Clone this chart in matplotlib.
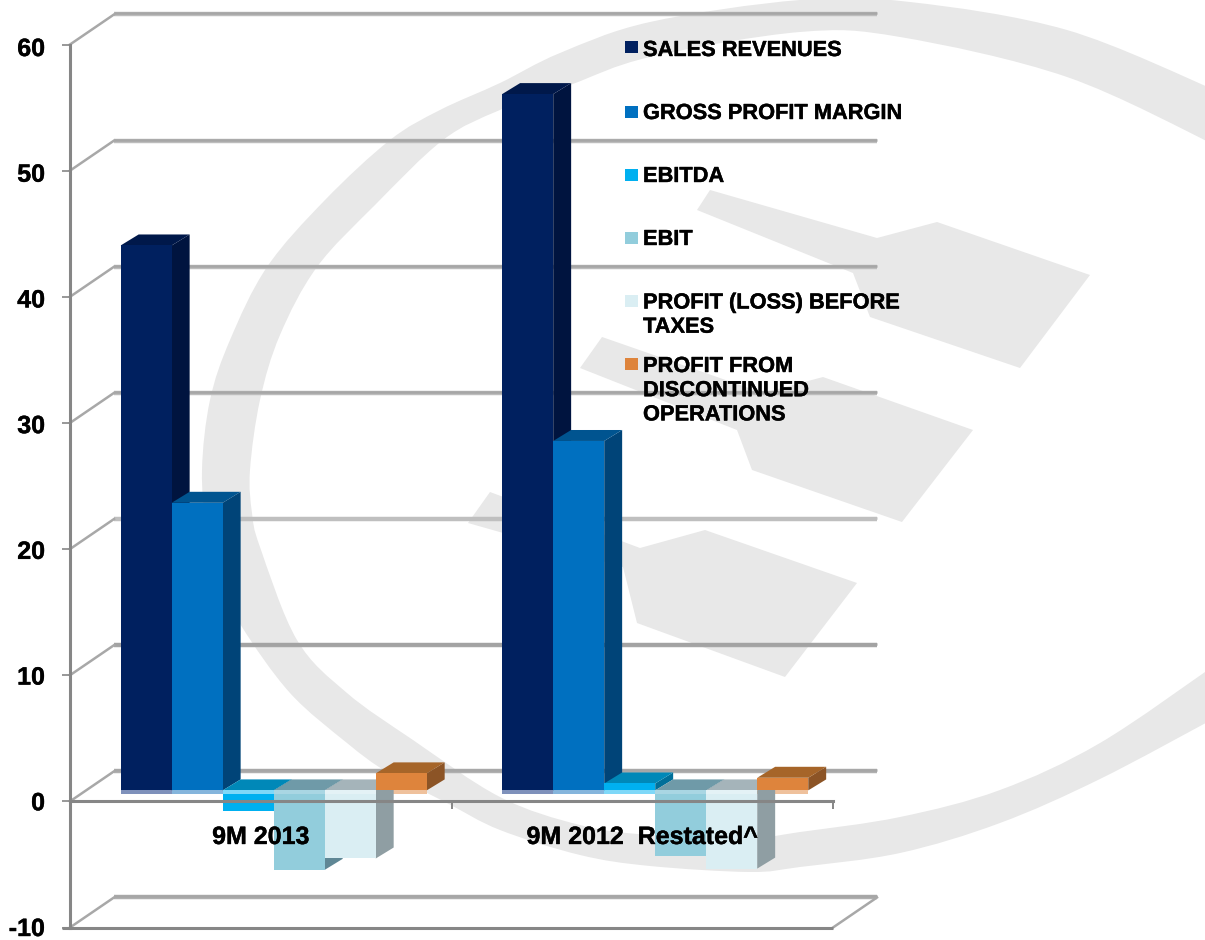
import numpy as np
import matplotlib
matplotlib.use('Agg')
import matplotlib.pyplot as plt
import matplotlib.patheffects as pe
from matplotlib.patches import Polygon, PathPatch, Rectangle
from matplotlib.path import Path
from matplotlib.transforms import ScaledTranslation

plt.rcParams['font.family'] = ['Liberation Sans', 'DejaVu Sans']
plt.rcParams['font.weight'] = 'bold'

categories = ['9M 2013', '9M 2012  Restated^']
series_names = ['SALES REVENUES', 'GROSS PROFIT MARGIN', 'EBITDA', 'EBIT',
                'PROFIT (LOSS) BEFORE\nTAXES',
                'PROFIT FROM\nDISCONTINUED\nOPERATIONS']
values_2013 = [43.2, 22.8, -1.65, -6.3, -5.4, 1.35]
values_2012 = [55.2, 27.7, 0.55, -5.2, -6.2, 1.0]
yticks = [-10, 0, 10, 20, 30, 40, 50, 60]

front_colors = ['#00205f', '#0070c0', '#00b0f0', '#92cddc', '#daeef3', '#de843c']
top_colors = ['#00184a', '#005490', '#0088b8', '#6f9aa8', '#a5b4ba', '#a66529']
side_colors = ['#00143f', '#004478', '#006f99', '#5f8795', '#8f9ea3', '#8c5426']
base_colors = ['#7f91bb', '#85b5dc', '#7fd8f8', '#a9d6e3', '#e4f2f6', '#efc19c']

# wall line colours from -10 up to 60 (lower edge, upper edge)
wall_lower = ['#b0b0b0', '#b0b0b0', '#a6a6a6', '#bfbfbf', '#bdbdbd', '#bdbdbd', '#bdbdbd', '#bdbdbd']
wall_upper = ['#a6a6a6', '#a6a6a6', '#a3a3a3', '#bfbfbf', '#a6a6a6', '#a6a6a6', '#a6a6a6', '#a6a6a6']

# logo outline behind the chart, in pixels from the top left corner
ring_outer = [(1215, 90), (1067, 30), (910, 2), (800, 0), (650, 22), (560, 53), (500, 83),
              (440, 110), (390, 140), (325, 200), (267, 267), (230, 340), (210, 400),
              (202, 470), (207, 530), (222, 585), (242, 627), (290, 693), (347, 743),
              (387, 772), (447, 803), (500, 830), (580, 855), (650, 866), (750, 872),
              (800, 867), (900, 853), (1000, 823), (1100, 779), (1215, 718)]
ring_inner = [(1215, 145), (1067, 77), (900, 37), (800, 32), (650, 57), (570, 85),
              (500, 110), (443, 140), (375, 205), (317, 267), (280, 335), (260, 400),
              (250, 470), (252, 513), (260, 547), (297, 640), (347, 693), (413, 740),
              (500, 797), (580, 825), (650, 835), (750, 838), (800, 832), (900, 817),
              (1000, 790), (1100, 743), (1215, 665)]
logo_blocks = [
    [(710, 190), (877, 238), (937, 222), (1090, 275), (1020, 368), (870, 317),
     (853, 273), (697, 210)],
    [(602, 337), (763, 393), (823, 377), (973, 430), (902, 522), (752, 470),
     (737, 430), (580, 368)],
    [(490, 492), (640, 548), (705, 530), (857, 583), (785, 677), (637, 623),
     (623, 567), (468, 523)],
]

# box depth, in axis units
wall_dx, wall_dy = 0.1153, 2.38
front_dx, front_dy = 0.034, 0.87
side_dx, side_dy = 0.047, 0.87
bar_w = 0.1337

heavy = [pe.withStroke(linewidth=0.3, foreground='black')]


def smooth(points):
    # Catmull-Rom through the points, as bezier pieces
    p = [np.array(q, float) for q in points]
    verts = [p[0]]
    for i in range(len(p) - 1):
        a = p[max(i - 1, 0)]
        b = p[i]
        c = p[i + 1]
        d = p[min(i + 2, len(p) - 1)]
        verts += [b + (c - a) / 6, c - (d - b) / 6, c]
    return verts


fig = plt.figure(figsize=(12.05, 9.4), dpi=100)

bg = fig.add_axes([0, 0, 1, 1], zorder=0)
bg.set_xlim(0, 1205)
bg.set_ylim(940, 0)
bg.axis('off')
outer = smooth(ring_outer)
inner = smooth(ring_inner[::-1])
verts = outer + [inner[0]] + inner[1:] + [outer[0]]
codes = [Path.MOVETO] + [Path.CURVE4] * (len(outer) - 1) + [Path.LINETO] + \
    [Path.CURVE4] * (len(inner) - 1) + [Path.CLOSEPOLY]
bg.add_patch(PathPatch(Path(verts, codes), fc='#e8e8e8', ec='none'))
for block in logo_blocks:
    bg.add_patch(Polygon(block, closed=True, fc='#e8e8e8', ec='none'))

ax = fig.add_axes([70 / 1205, 12.5 / 940, 763 / 1205, 883 / 940], zorder=1)
ax.patch.set_alpha(0)
ax.set_xlim(0, 2)
ax.set_ylim(-10, 60)

# back wall lines and the slanted lines on the side wall
for t, low_col, up_col in zip(yticks, wall_lower, wall_upper):
    ax.plot([wall_dx, 2 + wall_dx], [t + wall_dy] * 2, color=low_col, lw=3.2,
            solid_capstyle='butt', clip_on=False, zorder=0.5)
    ax.plot([wall_dx, 2 + wall_dx], [t + wall_dy + 0.08] * 2, color=up_col, lw=1.8,
            solid_capstyle='butt', clip_on=False, zorder=0.5)
    ax.plot([0, wall_dx], [t, t + wall_dy], color='#a8a8a8', lw=1.8,
            clip_on=False, zorder=0.5)
ax.plot([2, 2 + wall_dx], [-10, -10 + wall_dy], color='#a8a8a8', lw=1.8,
        clip_on=False, zorder=0.5)
ax.plot([-0.02, 2], [-10, -10], color='#868686', lw=2.2, solid_capstyle='butt',
        clip_on=False, zorder=2.5)


def draw_strip(x, i):
    # pale strip where the bar meets the floor plane
    ax.bar(x + front_dx, 0.32, bar_w, bottom=front_dy - 0.32, align='edge',
           color=base_colors[i], linewidth=0)


def draw_bar(x, v, i):
    x0 = x + front_dx
    x1 = x0 + bar_w
    y0 = front_dy
    y1 = front_dy + v
    top = max(y0, y1)
    low = min(y0, y1)
    ax.add_patch(Polygon([(x1, low), (x1 + side_dx, low + side_dy),
                          (x1 + side_dx, top + side_dy), (x1, top)],
                         fc=side_colors[i], ec='none', clip_on=False))
    ax.add_patch(Polygon([(x0, top), (x0 + side_dx, top + side_dy),
                          (x1 + side_dx, top + side_dy), (x1, top)],
                         fc=top_colors[i], ec='none', clip_on=False))
    ax.bar(x0, v, bar_w, bottom=y0, align='edge', color=front_colors[i], linewidth=0)
    if v < 0:
        draw_strip(x, i)


for c, values in enumerate([values_2013, values_2012]):
    for i, v in enumerate(values):
        if v > 0:
            draw_strip(c + 0.5 + (i - 3) * bar_w, i)
    for i, v in enumerate(values):
        draw_bar(c + 0.5 + (i - 3) * bar_w, v, i)

for s in ['top', 'right']:
    ax.spines[s].set_visible(False)
ax.spines['bottom'].set_position(('data', 0))
ax.spines['bottom'].set_color('#868686')
ax.spines['bottom'].set_linewidth(2.2)
ax.spines['left'].set_color('#868686')
ax.spines['left'].set_linewidth(2.2)

ax.set_yticks(yticks)
ax.set_yticklabels([str(t) for t in yticks], fontsize=18)
ax.tick_params(axis='y', length=6, width=1.2, color='#868686', pad=12)
ax.set_xticks([0, 1, 2])
ax.set_xticklabels([])
ax.tick_params(axis='x', length=6, width=1.4, color='#868686')
ax.set_xticks([0.5, 1.5], minor=True)
ax.set_xticklabels(categories, minor=True, fontsize=18)
ax.tick_params(axis='x', which='minor', length=0, pad=17)

# tick labels sit a little closer together than the ticks
label_shift = np.linspace(1, -2, len(yticks)) * 0.72 / 72
for lab, shift in zip(ax.get_yticklabels(), label_shift):
    lab.set_transform(lab.get_transform() + ScaledTranslation(0, shift, fig.dpi_scale_trans))
    lab.set_path_effects(heavy)
for lab in ax.get_xticklabels(minor=True):
    lab.set_path_effects(heavy)

# key on a clear layer above the bars
key = fig.add_axes([0, 0, 1, 1], zorder=2)
key.set_xlim(0, 1205)
key.set_ylim(940, 0)
key.axis('off')
key_text_rows = [40, 103, 166, 229, 292.5, 356]
key_box_rows = [41, 105.5, 169, 231.5, 295, 358]
for tr, br, name, col in zip(key_text_rows, key_box_rows, series_names, front_colors):
    key.add_patch(Rectangle((625, br), 13, 12, fc=col, ec='none'))
    key.text(643, tr, name, fontsize=15.7, va='top', ha='left', linespacing=1.2,
             color='black', path_effects=heavy)

fig.savefig('out.png', dpi=100)
